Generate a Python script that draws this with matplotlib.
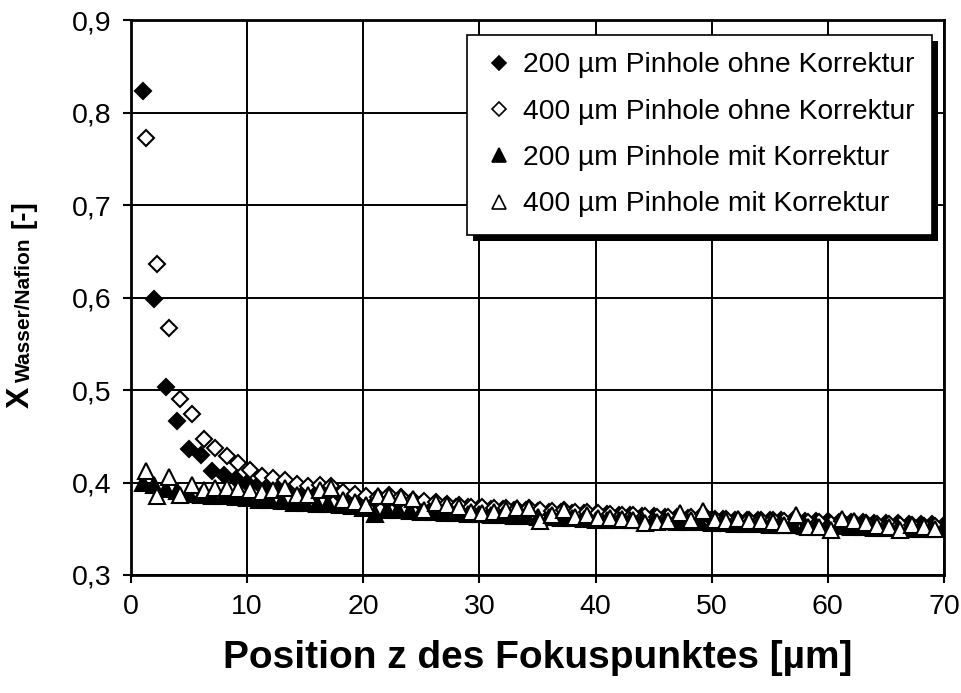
import numpy as np
import matplotlib
matplotlib.use("Agg")
import matplotlib.pyplot as plt
from matplotlib.lines import Line2D
from matplotlib.patches import Rectangle
from matplotlib.transforms import IdentityTransform

plt.rcParams['font.family'] = ['Liberation Sans', 'DejaVu Sans']

# ---------------- data ----------------
labels = ["200 µm Pinhole ohne Korrektur", "400 µm Pinhole ohne Korrektur",
          "200 µm Pinhole mit Korrektur", "400 µm Pinhole mit Korrektur"]

x_200 = np.arange(1, 71)            # positions of the 200 µm series
x_400 = np.arange(1, 70) + 0.25      # positions of the 400 µm series

d200_ohne = [0.823, 0.598, 0.503, 0.466, 0.436, 0.430, 0.412, 0.408, 0.404, 0.400,
             0.398, 0.396, 0.394, 0.392, 0.391, 0.390, 0.389, 0.386, 0.384, 0.382,
             0.381, 0.380, 0.379, 0.378, 0.377, 0.376, 0.375, 0.374, 0.373, 0.372,
             0.371, 0.371, 0.370, 0.370, 0.369, 0.368, 0.368, 0.367, 0.367, 0.366,
             0.366, 0.365, 0.365, 0.364, 0.364, 0.363, 0.363, 0.362, 0.362, 0.361,
             0.361, 0.360, 0.360, 0.360, 0.359, 0.359, 0.359, 0.358, 0.358, 0.358,
             0.357, 0.357, 0.357, 0.356, 0.356, 0.356, 0.355, 0.355, 0.355, 0.354]

d400_ohne = [0.772, 0.636, 0.567, 0.490, 0.474, 0.447, 0.437, 0.429, 0.421, 0.413,
             0.407, 0.405, 0.403, 0.398, 0.396, 0.397, 0.396, 0.390, 0.388, 0.385,
             0.384, 0.386, 0.384, 0.381, 0.380, 0.379, 0.377, 0.376, 0.374, 0.373,
             0.372, 0.372, 0.371, 0.372, 0.370, 0.369, 0.370, 0.368, 0.368, 0.367,
             0.366, 0.365, 0.365, 0.364, 0.363, 0.363, 0.362, 0.363, 0.366, 0.361,
             0.361, 0.360, 0.360, 0.359, 0.359, 0.358, 0.361, 0.357, 0.357, 0.355,
             0.358, 0.357, 0.356, 0.355, 0.355, 0.354, 0.354, 0.353, 0.353]

d200_mit = [0.400, 0.397, 0.393, 0.391, 0.388, 0.386, 0.385, 0.385, 0.384, 0.383,
            0.381, 0.381, 0.380, 0.378, 0.378, 0.377, 0.377, 0.376, 0.375, 0.372,
            0.366, 0.370, 0.370, 0.369, 0.368, 0.368, 0.367, 0.367, 0.366, 0.366,
            0.365, 0.365, 0.364, 0.364, 0.363, 0.363, 0.362, 0.362, 0.361, 0.360,
            0.360, 0.360, 0.359, 0.359, 0.358, 0.358, 0.357, 0.357, 0.357, 0.356,
            0.356, 0.355, 0.355, 0.355, 0.354, 0.354, 0.354, 0.353, 0.353, 0.352,
            0.353, 0.352, 0.352, 0.351, 0.351, 0.351, 0.350, 0.350, 0.350, 0.352]

d400_mit = [0.412, 0.385, 0.406, 0.386, 0.397, 0.392, 0.394, 0.394, 0.393, 0.392,
            0.390, 0.392, 0.394, 0.386, 0.386, 0.392, 0.394, 0.381, 0.379, 0.376,
            0.385, 0.385, 0.384, 0.382, 0.370, 0.378, 0.376, 0.374, 0.368, 0.367,
            0.368, 0.370, 0.372, 0.372, 0.358, 0.365, 0.370, 0.363, 0.365, 0.362,
            0.362, 0.361, 0.359, 0.356, 0.357, 0.358, 0.367, 0.360, 0.369, 0.359,
            0.358, 0.361, 0.358, 0.358, 0.357, 0.354, 0.365, 0.352, 0.352, 0.349,
            0.361, 0.358, 0.356, 0.353, 0.352, 0.349, 0.354, 0.352, 0.350]

x_ticks = [0, 10, 20, 30, 40, 50, 60, 70]
y_ticks = [0.3, 0.4, 0.5, 0.6, 0.7, 0.8, 0.9]
y_ticklabels = ["0,3", "0,4", "0,5", "0,6", "0,7", "0,8", "0,9"]

# ---------------- figure ----------------
W, H = 962, 693
fig = plt.figure(figsize=(W / 100, H / 100), dpi=100)
ax = fig.add_axes([131 / W, 1 - 575 / H, (944 - 131) / W, (575 - 20) / H])

ew = 1.5
ax.plot(x_200, d200_ohne, ls='none', marker='D', ms=8.5, mfc='black', mec='black', mew=ew, zorder=3)
ax.plot(x_400, d400_ohne, ls='none', marker='D', ms=8.5, mfc='white', mec='black', mew=ew, zorder=3)
ax.plot(x_200, d200_mit, ls='none', marker='^', ms=11.5, mfc='black', mec='black', mew=ew, zorder=3)
ax.plot(x_400, d400_mit, ls='none', marker='^', ms=11.5, mfc='white', mec='black', mew=ew, zorder=3)

ax.set_xlim(0, 70)
ax.set_ylim(0.3, 0.9)
ax.set_xticks(x_ticks)
ax.set_yticks(y_ticks)
ax.set_yticklabels(y_ticklabels)
ax.tick_params(axis='both', direction='out', length=6, width=1.5, labelsize=20.5, colors='black', pad=8)
ax.grid(True, color='black', linewidth=1.4)
ax.set_axisbelow(True)
for s in ax.spines.values():
    s.set_linewidth(2.0)
    s.set_color('black')

ax.set_xlabel("Position z des Fokuspunktes [µm]", fontsize=28, fontweight='bold', labelpad=14)

# y-axis title: large X, smaller subscript, then [-]
fig.text(36 / W, 1 - 408 / H, "X", rotation=90, ha='right', va='bottom',
         fontsize=23, fontweight='bold')
fig.text(34 / W, 1 - 382 / H, "Wasser/Nafion", rotation=90, ha='right', va='bottom',
         fontsize=15, fontweight='bold')
fig.text(37 / W, 1 - 228 / H, "[-]", rotation=90, ha='right', va='bottom',
         fontsize=20, fontweight='bold')

handles = [
    Line2D([], [], ls='none', marker='D', ms=7, mfc='black', mec='black', mew=1.2),
    Line2D([], [], ls='none', marker='D', ms=7, mfc='white', mec='black', mew=1.2),
    Line2D([], [], ls='none', marker='^', ms=10, mfc='black', mec='black', mew=1.2),
    Line2D([], [], ls='none', marker='^', ms=10, mfc='white', mec='black', mew=1.2),
]
leg = ax.legend(handles, labels, loc='upper right', bbox_to_anchor=((932 - 131) / 813, (575 - 35) / 555),
                borderaxespad=0, fontsize=20.3, frameon=True, fancybox=False, edgecolor='black',
                framealpha=1, handlelength=1.0, handletextpad=0.35, labelspacing=0.72, borderpad=0.62)
leg.get_frame().set_linewidth(1.2)
leg.set_zorder(10)

fig.canvas.draw()
bb = leg.get_window_extent()
shadow = Rectangle((bb.x0 + 6, bb.y0 - 6), bb.width, bb.height, transform=IdentityTransform(),
                   facecolor='black', edgecolor='none', zorder=9, clip_on=False)
ax.add_patch(shadow)

fig.savefig("out.png", dpi=100)
